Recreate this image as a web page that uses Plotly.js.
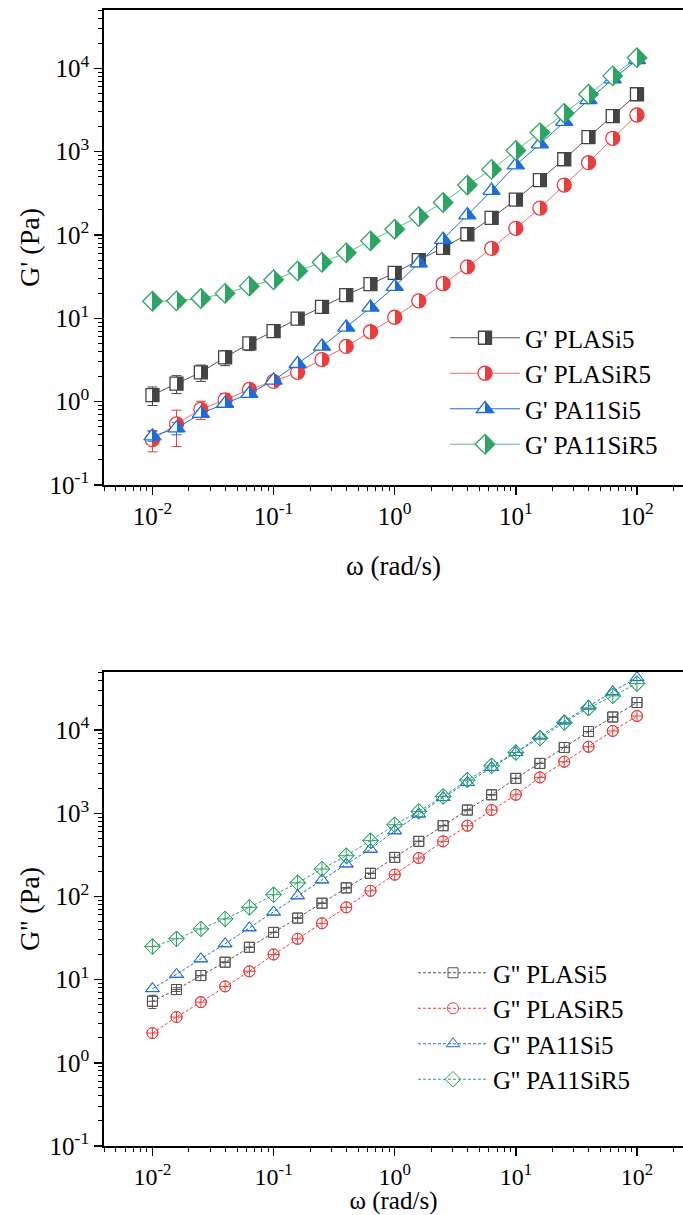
<!DOCTYPE html>
<html>
<head>
<meta charset="utf-8">
<script src="https://cdn.plot.ly/plotly-3.0.1.min.js"></script>
<style>html,body{margin:0;padding:0;background:#fff;}#chart{width:683px;height:1215px;}</style>
</head>
<body>
<div id="chart"></div>
<script>
// angular frequency (rad/s)
const omega = [0.01, 0.0158, 0.0251, 0.0398, 0.0631, 0.1, 0.158, 0.251, 0.398, 0.631, 1, 1.58, 2.51, 3.98, 6.31, 10, 15.8, 25.1, 39.8, 63.1, 100];

// storage modulus G' (Pa)
const gp_PLASi5   = [1.2, 1.65, 2.25, 3.4, 5.0, 7.0, 9.9, 13.7, 19, 25.7, 35, 50, 70, 102, 160, 265, 456, 810, 1490, 2670, 4880];
const gp_PLASiR5  = [0.35, 0.54, 0.81, 1.05, 1.4, 1.75, 2.25, 3.2, 4.6, 6.9, 10.3, 16.2, 26, 41.5, 69, 120, 210, 397, 736, 1445, 2750];
const gp_PA11Si5  = [0.385, 0.48, 0.72, 0.95, 1.25, 1.8, 2.85, 4.6, 7.8, 13.5, 24, 46, 88, 173, 340, 690, 1230, 2290, 4170, 7400, 12600];
const gp_PA11SiR5 = [16, 16.2, 17.3, 19.9, 24.3, 29, 37, 47, 61, 85, 117, 166, 245, 397, 612, 1030, 1690, 2880, 4880, 8100, 13400];

// error of G' (Pa)
const gpErr_PLASi5   = [0.3, 0.4, 0.5, 0.7, 0.9, 0, 0, 0, 0, 0, 0, 0, 0, 0, 0, 0, 0, 0, 0, 0, 0];
const gpErr_PLASiR5  = [0.1, 0.25, 0.2, 0.2, 0.1, 0, 0, 0, 0, 0, 0, 0, 0, 0, 0, 0, 0, 0, 0, 0, 0];
const gpErr_PA11Si5  = [0.05, 0.08, 0.06, 0.05, 0.05, 0, 0, 0, 0, 0, 0, 0, 0, 0, 0, 0, 0, 0, 0, 0, 0];

// loss modulus G'' (Pa)
const gpp_PLASi5   = [5.5, 7.6, 11.2, 16.2, 24.5, 37, 55, 83, 127, 190, 295, 460, 710, 1095, 1670, 2630, 3980, 6190, 9620, 14400, 21500];
const gpp_PLASiR5  = [2.28, 3.55, 5.37, 8.3, 12.6, 20.1, 31, 47.6, 74, 117, 183, 290, 460, 710, 1095, 1670, 2700, 4170, 6310, 9780, 14800];
const gpp_PA11Si5  = [7.8, 11.6, 17.8, 27, 42, 65, 102, 158, 246, 370, 617, 981, 1550, 2350, 3560, 5380, 8510, 12900, 19500, 29000, 42800];
const gpp_PA11SiR5 = [25, 31, 40.8, 53.8, 74, 105, 146, 214, 309, 469, 729, 1055, 1596, 2512, 3727, 5383, 8020, 12340, 18370, 25800, 36300];
const gppErr_PLASi5 = [1.0, 0.4, 0, 0, 0, 0, 0, 0, 0, 0, 0, 0, 0, 0, 0, 0, 0, 0, 0, 0, 0];

// tick labels
const xTickVals = [0.01, 0.1, 1, 10, 100];
const xTickText = ['10<sup>-2</sup>', '10<sup>-1</sup>', '10<sup>0</sup>', '10<sup>1</sup>', '10<sup>2</sup>'];
const yTickVals = [0.1, 1, 10, 100, 1000, 10000];
const yTickText = ['10<sup>-1</sup>', '10<sup>0</sup>', '10<sup>1</sup>', '10<sup>2</sup>', '10<sup>3</sup>', '10<sup>4</sup>'];

const names1 = ["G' PLASi5", "G' PLASiR5", "G' PA11Si5", "G' PA11SiR5"];
const names2 = ["G'' PLASi5", "G'' PLASiR5", "G'' PA11Si5", "G'' PA11SiR5"];

const C_BLACK = '#444444', C_RED = '#ee3b3b', C_BLUE = '#1b6ddb', C_GREEN = '#2ba561';
const LINE_RED = '#f26b6b', LINE_GREEN = '#5bbf86';
const FONT = 'Liberation Serif';

function topTrace(name, y, err, color, lineColor, symbol, size) {
  const t = {
    x: omega, y: y, name: name, type: 'scatter', mode: 'lines+markers',
    xaxis: 'x', yaxis: 'y', legend: 'legend',
    line: {color: lineColor, width: 1},
    marker: {symbol: symbol, size: size, color: '#ffffff',
             line: {color: color, width: 1.3},
             gradient: {type: 'horizontal', color: color}}
  };
  if (err) t.error_y = {type: 'data', array: err, symmetric: true, color: color, thickness: 1, width: 5};
  return t;
}

function botTrace(name, y, err, color, symbol, legendSymbol, size) {
  const t = {
    type: 'scatter', mode: 'lines+markers', xaxis: 'x2', yaxis: 'y2', legend: 'legend2',
    x: omega, y: y, name: name, showlegend: true,
    line: {color: color, width: 1, dash: '3px,2px'},
    marker: {symbol: legendSymbol, size: size, color: color, line: {width: 1}}
  };
  if (err) t.error_y = {type: 'data', array: err, symmetric: true, color: color, thickness: 1, width: 4};
  const over = {
    type: 'scatter', mode: 'markers', xaxis: 'x2', yaxis: 'y2', legend: 'legend2',
    x: omega, y: y, name: name, showlegend: false,
    marker: {symbol: symbol, size: size, color: color, line: {width: 1}}
  };
  return [t, over];
}

const data = [
  topTrace(names1[0], gp_PLASi5, gpErr_PLASi5, C_BLACK, '#555555', 'square', 13),
  topTrace(names1[1], gp_PLASiR5, gpErr_PLASiR5, C_RED, LINE_RED, 'circle', 14),
  topTrace(names1[2], gp_PA11Si5, gpErr_PA11Si5, C_BLUE, C_BLUE, 'triangle-up', 15),
  topTrace(names1[3], gp_PA11SiR5, null, C_GREEN, LINE_GREEN, 'diamond', 15),
  ...botTrace(names2[0], gpp_PLASi5, gppErr_PLASi5, '#555555', 'square-cross-open', 'square-open', 10),
  ...botTrace(names2[1], gpp_PLASiR5, null, C_RED, 'circle-cross-open', 'circle-open', 11),
  ...botTrace(names2[2], gpp_PA11Si5, null, C_BLUE, 'triangle-up-open', 'triangle-up-open', 12),
  ...botTrace(names2[3], gpp_PA11SiR5, null, C_GREEN, 'diamond-cross-open', 'diamond-open', 12)
];

function xAxis(anchor, standoff, tickSize, titleSize) {
  return {
    type: 'log', range: [-2.4, 2.38], domain: [104 / 683, 1], anchor: anchor,
    tickmode: 'array', tickvals: xTickVals, ticktext: xTickText,
    ticks: 'outside', ticklen: 8, tickwidth: 1.5, tickcolor: '#000',
    showline: true, linewidth: 1.8, linecolor: '#000', mirror: true,
    showgrid: false, zeroline: false,
    minor: {ticks: 'outside', ticklen: 4, tickwidth: 1, tickcolor: '#000', dtick: 'D1', showgrid: false},
    tickfont: {family: FONT, size: tickSize, color: '#000'},
    title: {text: 'ω (rad/s)', font: {family: FONT, size: titleSize, color: '#000'}, standoff: standoff},
    automargin: false
  };
}
function yAxis(anchor, domain, title) {
  return {
    type: 'log', range: [-1, 4.699], domain: domain, anchor: anchor,
    tickmode: 'array', tickvals: yTickVals, ticktext: yTickText,
    ticks: 'outside', ticklen: 8, tickwidth: 1.5, tickcolor: '#000',
    showline: true, linewidth: 1.8, linecolor: '#000', mirror: false,
    showgrid: false, zeroline: false,
    minor: {ticks: 'outside', ticklen: 4, tickwidth: 1, tickcolor: '#000', dtick: 'D1', showgrid: false},
    tickfont: {family: FONT, size: 25, color: '#000'},
    title: {text: title, font: {family: FONT, size: 28, color: '#000'}, standoff: 2},
    automargin: false
  };
}

const H = 1215;
const layout = {
  width: 683, height: 1215,
  margin: {l: 0, r: 0, t: 0, b: 0},
  paper_bgcolor: '#fff', plot_bgcolor: '#fff',
  font: {family: FONT, color: '#000'},
  showlegend: true,
  xaxis: xAxis('y', 27, 25, 27),
  yaxis: yAxis('x', [(H - 485) / H, (H - 10) / H], "G' (Pa)"),
  xaxis2: xAxis('y2', 4, 24, 25),
  yaxis2: yAxis('x2', [(H - 1146) / H, (H - 672) / H], "G'' (Pa)"),
  legend: {x: 445 / 683, y: (H - 315) / H, xanchor: 'left', yanchor: 'top', bgcolor: 'rgba(0,0,0,0)',
           font: {family: FONT, size: 25, color: '#000'}, itemwidth: 70, tracegroupgap: 0},
  legend2: {x: 413 / 683, y: (H - 950) / H, xanchor: 'left', yanchor: 'top', bgcolor: 'rgba(0,0,0,0)',
           font: {family: FONT, size: 25, color: '#000'}, itemwidth: 70, tracegroupgap: 0}
};

Plotly.newPlot('chart', data, layout, {displayModeBar: false, staticPlot: true}).then(function () {
  // sharp half fill (left white, right coloured) for the G' markers
  document.querySelectorAll('linearGradient stop').forEach(function (s) { s.setAttribute('offset', '50%'); });
});
</script>
</body>
</html>
